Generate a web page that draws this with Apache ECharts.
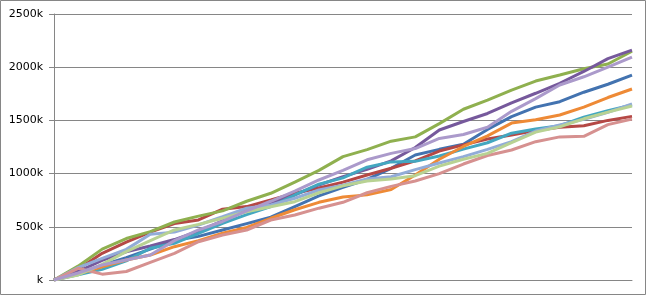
<!DOCTYPE html>
<html>
<head>
<meta charset="utf-8">
<script src="https://cdn.jsdelivr.net/npm/echarts@6/dist/echarts.min.js"></script>
<style>
html,body{margin:0;padding:0;background:#fff;}
#c{width:647px;height:296px;}
</style>
</head>
<body>
<div id="c"></div>
<script>
// x steps (hidden category axis)
var steps = [];
for (var i = 0; i <= 24; i++) steps.push(String(i));

// y tick labels (values in thousands)
var yTickLabels = ['k', '500k', '1000k', '1500k', '2000k', '2500k'];

// series values, in thousands
var sBlue   = [0,60,140,210,290,370,410,470,530,590,690,790,870,945,1050,1175,1228,1275,1415,1535,1625,1676,1765,1840,1925];
var sRed    = [0,100,251,355,450,530,564,665,690,752,815,865,920,987,1050,1120,1212,1270,1325,1363,1405,1435,1450,1500,1538];
var sGreen  = [0,130,290,390,455,545,600,650,740,815,920,1030,1160,1225,1305,1345,1470,1605,1690,1785,1870,1927,1985,2030,2150];
var sPurple = [0,80,185,265,320,380,460,555,655,724,799,893,971,1040,1120,1245,1410,1490,1565,1665,1755,1849,1960,2080,2160];
var sTeal   = [0,50,100,180,298,345,439,533,615,689,799,900,960,1060,1110,1115,1165,1230,1290,1380,1420,1450,1530,1590,1645];
var sOrange = [0,55,125,188,235,313,370,439,495,580,660,730,780,800,850,987,1135,1255,1355,1475,1507,1551,1625,1715,1795];
var sLtBlue = [0,116,204,288,430,450,517,595,674,705,768,846,890,950,970,1037,1100,1160,1228,1300,1400,1457,1510,1575,1654];
var sPink   = [0,110,55,80,165,250,360,423,470,564,611,675,730,820,880,930,1000,1090,1170,1222,1300,1345,1350,1460,1513];
var sLtGreen= [0,47,147,266,370,470,523,580,642,689,736,820,885,930,950,980,1070,1135,1190,1290,1390,1440,1515,1578,1636];
var sLtPurple=[0,66,141,188,235,370,470,550,650,740,835,940,1030,1130,1190,1235,1330,1368,1436,1585,1705,1833,1910,2000,2095];

var seriesList = [
  {name:'S1', data:sBlue,    color:'#4373B0'},
  {name:'S2', data:sRed,     color:'#B54845'},
  {name:'S3', data:sGreen,   color:'#8FB04F'},
  {name:'S4', data:sPurple,  color:'#76599C'},
  {name:'S5', data:sTeal,    color:'#43A7C0'},
  {name:'S6', data:sOrange,  color:'#EE8A36'},
  {name:'S7', data:sLtBlue,  color:'#92ACD8'},
  {name:'S8', data:sPink,    color:'#D69190'},
  {name:'S9', data:sLtGreen, color:'#B8D293'},
  {name:'S10',data:sLtPurple,color:'#AB9ACB'}
];

var chart = echarts.init(document.getElementById('c'), null, {renderer:'canvas'});
chart.setOption({
  animation: false,
  backgroundColor: '#ffffff',
  grid: {left:54, right:15, top:14, bottom:16, containLabel:false},
  xAxis: {
    type: 'category',
    data: steps,
    boundaryGap: false,
    axisLine: {show:true, lineStyle:{color:'#868686', width:1}},
    axisTick: {show:false},
    axisLabel: {show:false},
    splitLine: {show:false}
  },
  yAxis: {
    type: 'value',
    min: 0, max: 2500, interval: 500,
    axisLine: {show:true, lineStyle:{color:'#868686', width:1}},
    axisTick: {show:true, length:5, lineStyle:{color:'#868686'}},
    axisLabel: {
      margin: 11,
      color: '#000',
      fontFamily: 'DejaVu Sans',
      fontSize: 11,
      formatter: function (v) { return yTickLabels[Math.round(v / 500)]; }
    },
    splitLine: {show:true, lineStyle:{color:'#868686', width:1}}
  },
  graphic: [{
    type:'rect', silent:true,
    shape:{x:0.5, y:0.5, width:645, height:294},
    style:{fill:null, stroke:'#868686', lineWidth:1}
  }],
  series: seriesList.map(function (s) {
    return {
      name: s.name, type: 'line', data: s.data,
      showSymbol: false, symbol: 'none',
      lineStyle: {width: 3, color: s.color},
      itemStyle: {color: s.color}
    };
  })
});
</script>
</body>
</html>
